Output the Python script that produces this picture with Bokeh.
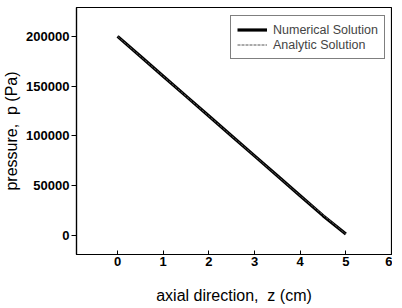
from bokeh.plotting import figure
from bokeh.embed import file_html
from bokeh.resources import INLINE
from bokeh.models import FixedTicker, BasicTickFormatter, Legend, LegendItem, Range1d

# data
z_num = [0, 0.5, 1, 1.5, 2, 2.5, 3, 3.5, 4, 4.5, 5]
p_num = [200000, 180000, 160000, 140000, 120000, 100000, 80000, 60000, 40000, 20000, 1500]
z_ana = [0, 1, 2, 3, 4, 5]
p_ana = [200000, 160000, 120000, 80000, 40000, 1500]
x_ticks = [0, 1, 2, 3, 4, 5, 6]
y_ticks = [0, 50000, 100000, 150000, 200000]
series_names = ["Numerical Solution", "Analytic Solution"]

FONT = "Liberation Sans"

p = figure(width=392, height=314, output_backend="svg", toolbar_location=None,
           x_range=Range1d(-0.9, 6.0), y_range=Range1d(-19000, 229000),
           min_border_left=71, min_border_right=1, min_border_top=7, min_border_bottom=60)

r1 = p.line(z_num, p_num, line_color="black", line_width=3.2)
r2 = p.line(z_ana, p_ana, line_color="#555555", line_width=1, line_dash="3 1")

p.xgrid.visible = False
p.ygrid.visible = False
p.outline_line_color = "black"
p.outline_line_width = 1.2
p.background_fill_color = "white"
p.border_fill_color = "white"

p.xaxis.ticker = FixedTicker(ticks=x_ticks)
p.yaxis.ticker = FixedTicker(ticks=y_ticks)
p.yaxis.formatter = BasicTickFormatter(use_scientific=False)

for ax in (p.xaxis[0], p.yaxis[0]):
    ax.axis_line_color = "black"
    ax.axis_line_width = 1.2
    ax.major_tick_line_color = "black"
    ax.minor_tick_line_color = None
    ax.major_label_text_font = FONT
    ax.major_label_text_font_style = "bold"
    ax.major_label_text_font_size = "13px"
    ax.major_label_text_color = "black"
    ax.axis_label_text_font = FONT
    ax.axis_label_text_font_style = "normal"
    ax.axis_label_text_font_size = "16px"
    ax.axis_label_text_color = "black"

p.xaxis.major_tick_in = 4
p.xaxis.major_tick_out = 0
p.yaxis.major_tick_in = 0
p.yaxis.major_tick_out = 5
p.xaxis.major_label_standoff = 2
p.xaxis.axis_label = "axial direction,\u00a0 z (cm)"
p.xaxis.axis_label_standoff = 18
p.yaxis.major_label_standoff = 2
p.yaxis.axis_label = "pressure,\u00a0 p (Pa)"
p.yaxis.axis_label_standoff = 3

legend = Legend(items=[LegendItem(label=series_names[0], renderers=[r1]),
                       LegendItem(label=series_names[1], renderers=[r2])],
                location=(154, 195))
legend.label_text_font = FONT
legend.label_text_font_size = "12.5px"
legend.label_height = 15
legend.glyph_height = 15
legend.glyph_width = 30
legend.label_standoff = 6
legend.spacing = 0
legend.padding = 6
legend.margin = 0
legend.border_line_color = "black"
legend.border_line_width = 1
legend.background_fill_alpha = 1
p.add_layout(legend)

open("out.html", "w").write(file_html(p, INLINE))
